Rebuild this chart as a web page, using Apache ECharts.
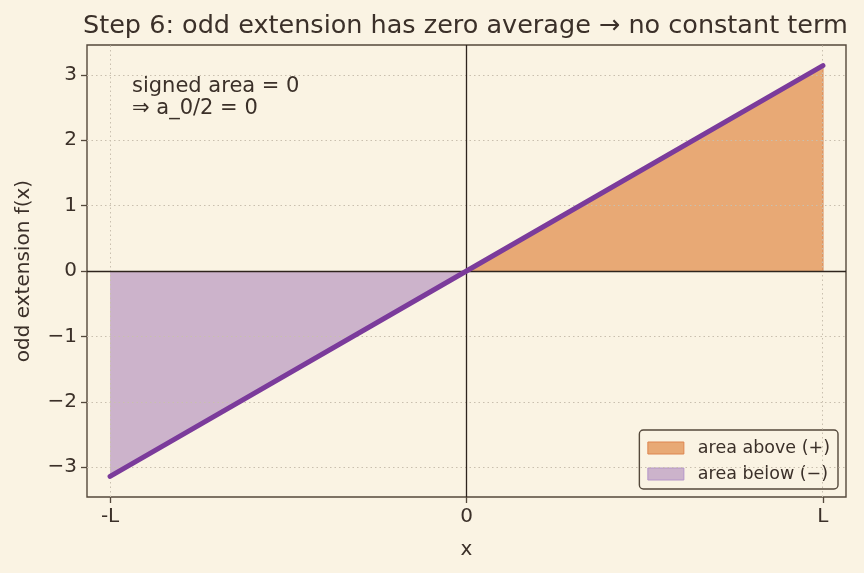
<!DOCTYPE html>
<html>
<head>
<meta charset="utf-8">
<script src="https://cdn.jsdelivr.net/npm/echarts@6/dist/echarts.min.js"></script>
<style>
  html, body { margin: 0; padding: 0; background: #faf3e3; }
  #main { width: 864px; height: 573px; }
</style>
</head>
<body>
<div id="main"></div>
<script>
var PI = Math.PI;
// odd extension f(x) = x on [-L, L] with L = pi
var lineX = [-PI, 0, PI];
var lineY = [-PI, 0, PI];
var belowX = [-PI, 0];
var belowY = [-PI, 0];
var aboveX = [0, PI];
var aboveY = [0, PI];
var xTicks = [-PI, 0, PI];
var xTickLabels = ['-L', '0', 'L'];
var yTicks = [-3, -2, -1, 0, 1, 2, 3];

var ink = '#3b3029';
var spine = '#54483b';
var FONT = 'DejaVu Sans';

function pairs(xs, ys) {
  return xs.map(function (x, i) { return [x, ys[i]]; });
}

var gridMarks = xTicks.map(function (v) { return { xAxis: v }; })
  .concat(yTicks.map(function (v) { return { yAxis: v }; }));

let myChart = echarts.init(document.getElementById('main'));
var option = {
  backgroundColor: '#faf3e3',
  animation: false,
  title: {
    text: 'Step 6: odd extension has zero average \u2192 no constant term',
    left: 78,
    top: 8,
    textStyle: { color: ink, fontFamily: FONT, fontSize: 25.5, fontWeight: 'normal' }
  },
  grid: {
    left: 87, right: 18, top: 45, bottom: 76,
    show: true, borderColor: spine, borderWidth: 1.4, backgroundColor: '#faf3e3'
  },
  legend: {
    orient: 'vertical',
    right: 26, bottom: 84,
    padding: [9, 8, 6, 8],
    itemGap: 8,
    itemWidth: 36, itemHeight: 12,
    backgroundColor: '#faf3e3',
    borderColor: spine, borderWidth: 1.4, borderRadius: 4,
    textStyle: { color: ink, fontFamily: FONT, fontSize: 17.5, padding: [0, 0, 0, 9] },
    data: [
      { name: 'area above (+)', icon: 'rect', itemStyle: { color: '#e8a975', borderColor: '#dd8550', borderWidth: 1 } },
      { name: 'area below (\u2212)', icon: 'rect', itemStyle: { color: '#ccb3cb', borderColor: '#b495c8', borderWidth: 1 } }
    ]
  },
  graphic: [{
    type: 'text', left: 132, top: 76,
    style: {
      text: 'signed area = 0\n\u21d2 a_0/2 = 0',
      fill: ink, font: '21px "DejaVu Sans"', lineHeight: 22
    }
  }],
  xAxis: {
    type: 'value', min: -3.345, max: 3.345,
    name: 'x', nameLocation: 'middle', nameGap: 43,
    nameTextStyle: { color: ink, fontFamily: FONT, fontSize: 20 },
    axisLine: { show: false, onZero: false },
    axisTick: { show: true, customValues: xTicks, length: 6, lineStyle: { color: spine, width: 1.3 } },
    axisLabel: {
      customValues: xTicks, margin: 10, color: ink, fontFamily: FONT, fontSize: 20,
      formatter: function (v) {
        var i = xTicks.findIndex(function (t) { return Math.abs(t - v) < 1e-6; });
        return i >= 0 ? xTickLabels[i] : '';
      }
    },
    splitLine: { show: false }
  },
  yAxis: {
    type: 'value', min: -3.456, max: 3.456,
    name: 'odd extension f(x)', nameLocation: 'middle', nameGap: 53,
    nameTextStyle: { color: ink, fontFamily: FONT, fontSize: 20 },
    axisLine: { show: false, onZero: false },
    axisTick: { show: true, customValues: yTicks, length: 6, lineStyle: { color: spine, width: 1.3 } },
    axisLabel: {
      customValues: yTicks, margin: 10, color: ink, fontFamily: FONT, fontSize: 20,
      formatter: function (v) { return v < 0 ? '\u2212' + Math.abs(v) : String(v); }
    },
    splitLine: { show: false }
  },
  series: [
    {
      name: 'grid', type: 'line', symbol: 'none', silent: true, data: [],
      markLine: {
        silent: true, symbol: 'none', label: { show: false },
        lineStyle: { color: '#c9bfae', width: 1, type: [1.5, 3] },
        data: gridMarks
      },
      z: 1
    },
    {
      name: 'area above (+)', type: 'line', data: pairs(aboveX, aboveY),
      symbol: 'none', silent: true,
      lineStyle: { width: 1, color: '#dd8550' },
      itemStyle: { color: '#e8a975' },
      areaStyle: { color: '#e8a975', opacity: 1, origin: 0 },
      z: 2
    },
    {
      name: 'area below (\u2212)', type: 'line', data: pairs(belowX, belowY),
      symbol: 'none', silent: true,
      lineStyle: { width: 1, color: '#b495c8' },
      itemStyle: { color: '#ccb3cb' },
      areaStyle: { color: '#ccb3cb', opacity: 1, origin: 0 },
      z: 2
    },
    {
      name: 'edge', type: 'line', symbol: 'none', silent: true,
      data: [[aboveX[1], 0], [aboveX[1], aboveY[1]]],
      lineStyle: { width: 1.2, color: '#d98a55' },
      z: 2
    },
    {
      name: 'zero', type: 'line', symbol: 'none', silent: true, data: [],
      markLine: {
        silent: true, symbol: 'none', label: { show: false },
        lineStyle: { color: '#2e241d', width: 1.3, type: 'solid' },
        data: [{ yAxis: 0 }, { xAxis: 0 }]
      },
      z: 3
    },
    {
      name: 'f', type: 'line', data: pairs(lineX, lineY),
      symbol: 'none', silent: true,
      lineStyle: { width: 5, color: '#7b3b9b', cap: 'round' },
      z: 5
    }
  ]
};
myChart.setOption(option);
</script>
</body>
</html>
